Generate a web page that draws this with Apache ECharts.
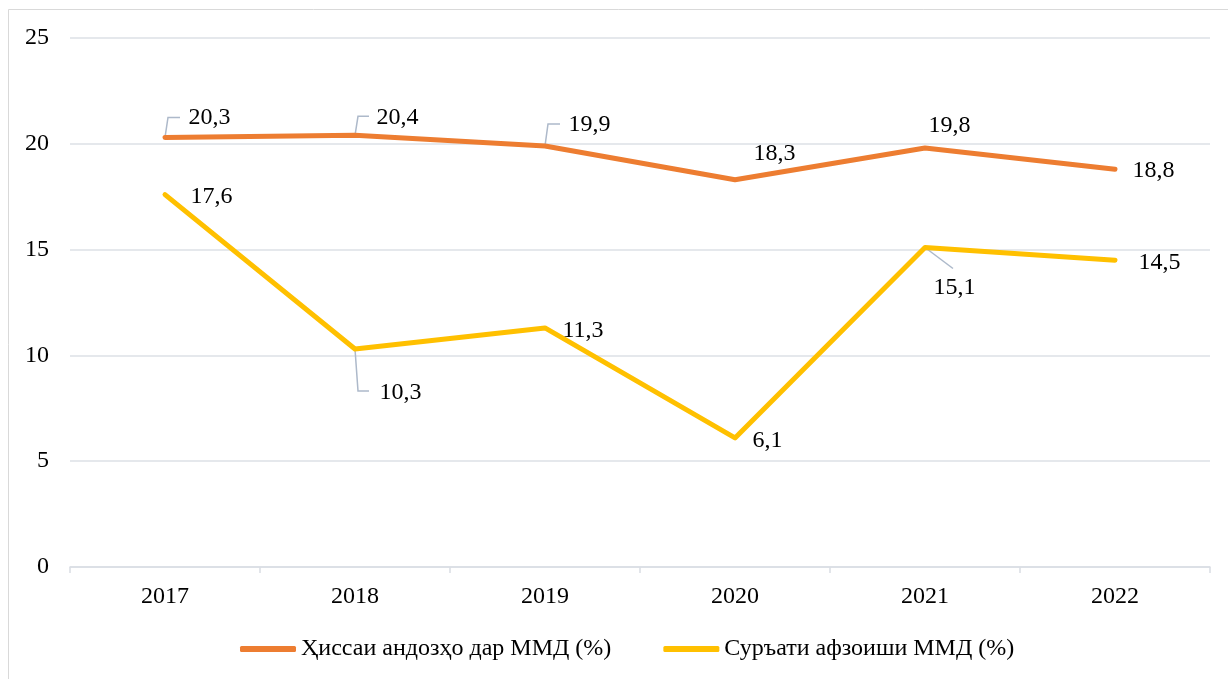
<!DOCTYPE html>
<html>
<head>
<meta charset="utf-8">
<script src="https://cdn.jsdelivr.net/npm/echarts@6/dist/echarts.min.js"></script>
<style>
	html, body { margin: 0; padding: 0; background: #fff; }
	#chart { width: 1228px; height: 679px; }
</style>
</head>
<body>
<div id="chart"></div>
<script>
// данные
const years = ["2017", "2018", "2019", "2020", "2021", "2022"];
const taxShare = [20.3, 20.4, 19.9, 18.3, 19.8, 18.8];
const gdpGrowth = [17.6, 10.3, 11.3, 6.1, 15.1, 14.5];
const seriesNames = ["Ҳиссаи андозҳо дар ММД (%)", "Суръати афзоиши ММД (%)"];
const yTicks = { min: 0, max: 25, interval: 5 };

// смещения подписей (dx, dy)
const labelShift = [
	[[23, -20], [21, -18], [23, -21], [18, -26], [3, -22], [17, 2]],
	[[25, 2], [24, 44], [17, 3], [17, 3], [8, 40], [23, 3]]
];
// выноски: null - нет, иначе ломаная в пикселях относительно точки
const leader = [
	[[[3, -20], [15, -20]], [[3, -19], [14, -19]], [[3, -22], [15, -22]], null, null, null],
	[null, [[3, 42], [14, 42]], null, null, [[28, 21]], null]
];

const font = "'Liberation Serif', 'Times New Roman', serif";
const fs = 24;

function makeSeries(s, values, color) {
	return {
		name: seriesNames[s],
		type: "line",
		data: values,
		symbol: "circle",
		symbolSize: 1,
		showSymbol: true,
		itemStyle: { color: color },
		lineStyle: { color: color, width: 5, cap: "round", join: "round" },
		label: {
			show: true,
			position: "right",
			distance: 0,
			align: "left",
			verticalAlign: "middle",
			fontFamily: font,
			fontSize: fs,
			color: "#000",
			formatter: p => String(p.value).replace(".", ",")
		},
		labelLayout: p => ({
			dx: labelShift[s][p.dataIndex][0],
			dy: labelShift[s][p.dataIndex][1]
		}),
		emphasis: { disabled: true },
		z: 3 - s
	};
}

// точки с выносками: [индекс, значение, серия]
const leaderData = [];
[taxShare, gdpGrowth].forEach((vals, s) => {
	vals.forEach((v, i) => { if (leader[s][i]) leaderData.push([i, v, s]); });
});

const leaderSeries = {
	type: "custom",
	data: leaderData,
	silent: true,
	z: 1,
	renderItem: (params, api) => {
		const i = api.value(0), s = api.value(2);
		const pt = api.coord([i, api.value(1)]);
		const pts = [pt].concat(leader[s][i].map(o => [pt[0] + o[0], pt[1] + o[1]]));
		return {
			type: "polyline",
			shape: { points: pts },
			style: { stroke: "#ADB9CA", lineWidth: 1.5, fill: null }
		};
	}
};

const chart = echarts.init(document.getElementById("chart"));
chart.setOption({
	animation: false,
	backgroundColor: "#fff",
	textStyle: { fontFamily: font },
	graphic: [{
		type: "rect",
		shape: { x: 8.5, y: 9.5, width: 1400, height: 800 },
		style: { fill: "none", stroke: "#D9D9D9", lineWidth: 1 },
		silent: true
	}],
	grid: { left: 70, right: 18, top: 38, bottom: 112, containLabel: false },
	legend: {
		top: 637,
		left: 240,
		padding: 0,
		itemWidth: 56,
		itemHeight: 6,
		itemGap: 52,
		icon: "roundRect",
		textStyle: { fontFamily: font, fontSize: fs, color: "#000" },
		data: seriesNames
	},
	xAxis: {
		type: "category",
		data: years,
		boundaryGap: true,
		axisLine: { lineStyle: { color: "#D9DDE3", width: 1.5 } },
		axisTick: { show: true, length: 6, lineStyle: { color: "#D9DDE3", width: 1.5 } },
		axisLabel: { fontFamily: font, fontSize: fs, color: "#000", margin: 18 }
	},
	yAxis: {
		type: "value",
		min: yTicks.min,
		max: yTicks.max,
		interval: yTicks.interval,
		axisLine: { show: false },
		axisTick: { show: false },
		splitLine: { lineStyle: { color: "#DDE1E6", width: 1.5 } },
		axisLabel: { fontFamily: font, fontSize: fs, color: "#000", margin: 21 }
	},
	series: [
		makeSeries(0, taxShare, "#ED7D31"),
		makeSeries(1, gdpGrowth, "#FFC000"),
		leaderSeries
	]
});
</script>
</body>
</html>
